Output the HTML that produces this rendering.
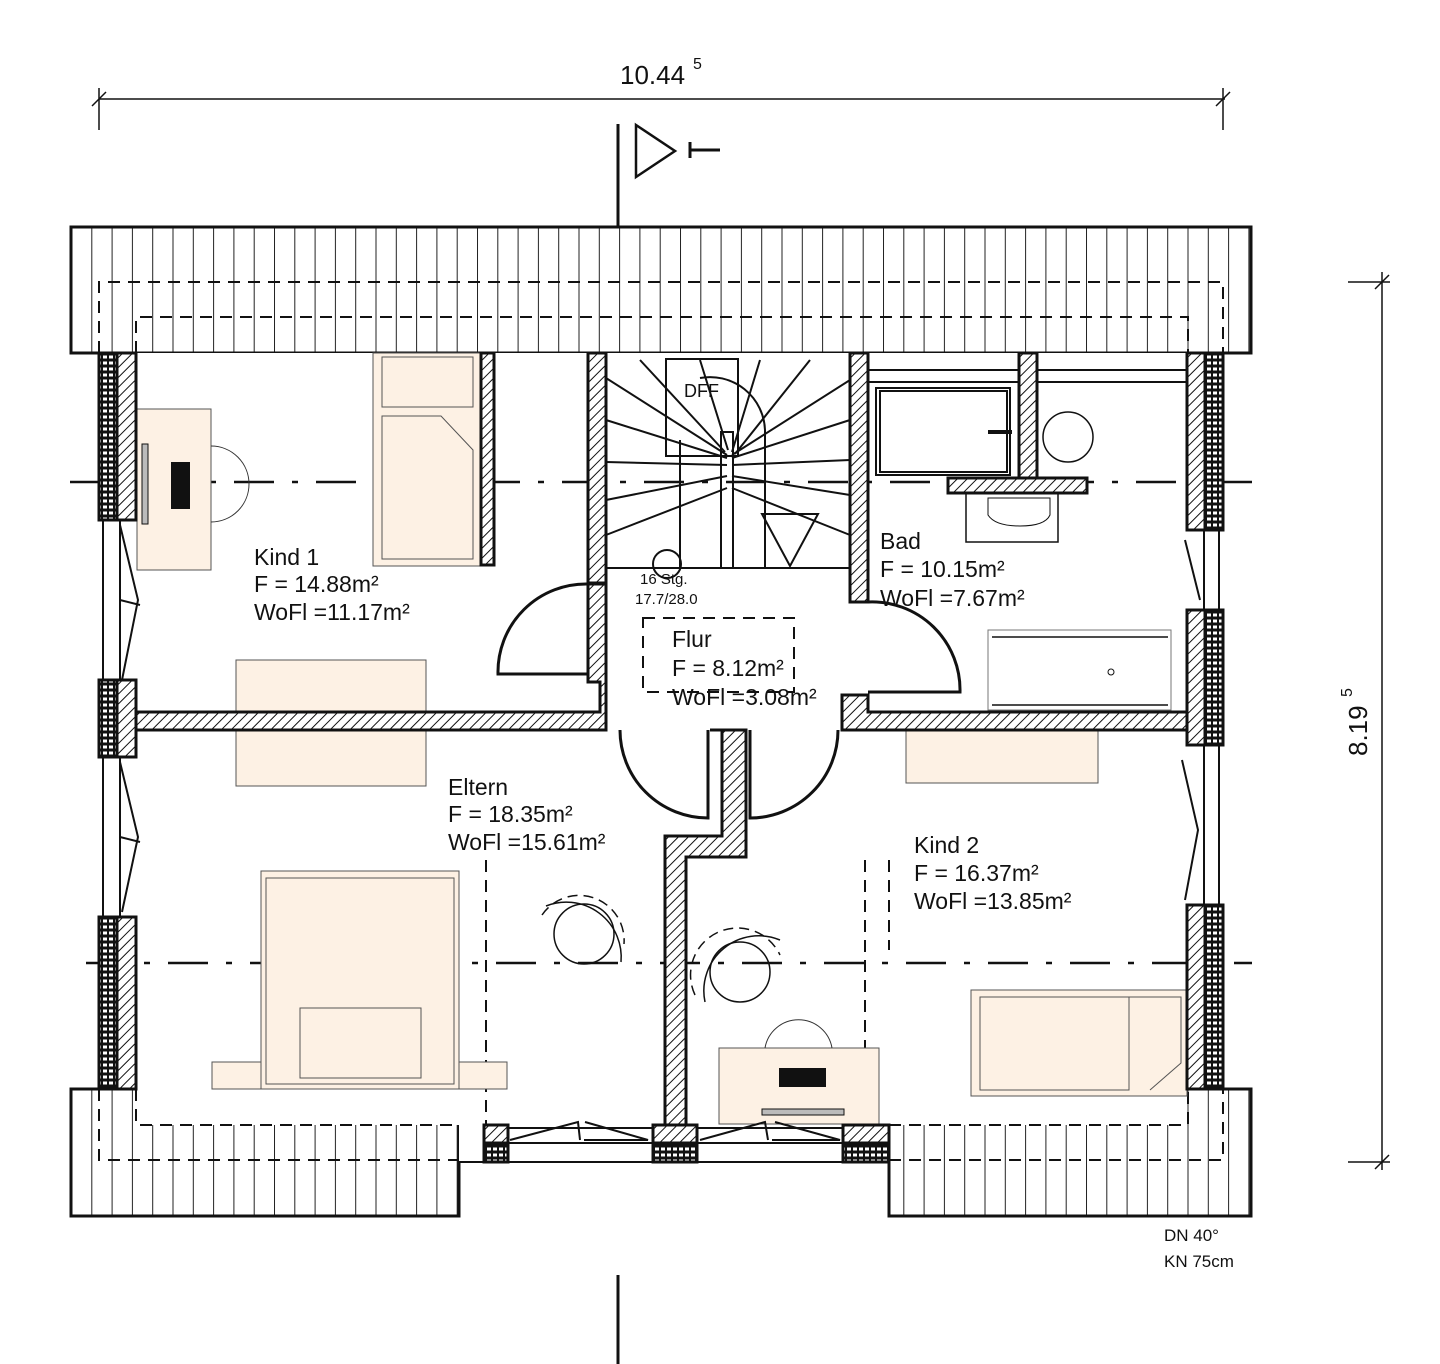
<!DOCTYPE html>
<html><head><meta charset="utf-8"><style>
html,body{margin:0;padding:0;background:#fff}
svg{display:block}
text{font-family:"Liberation Sans",sans-serif;fill:#111}
</style></head><body>
<svg width="1440" height="1364" viewBox="0 0 1440 1364" xmlns="http://www.w3.org/2000/svg">
<defs>
<pattern id="h" width="7" height="7" patternUnits="userSpaceOnUse" patternTransform="rotate(45)">
<rect width="7" height="7" fill="#fff"/><line x1="0" y1="0" x2="0" y2="7" stroke="#111" stroke-width="2"/></pattern>
<pattern id="b" width="6" height="6" patternUnits="userSpaceOnUse">
<rect width="6" height="6" fill="#111"/><rect x="1" y="1.5" width="4" height="3" fill="#fff"/></pattern>
<pattern id="r" width="20.3" height="200" patternUnits="userSpaceOnUse" x="71">
<rect width="20.3" height="200" fill="#fff"/><line x1="0.5" y1="0" x2="0.5" y2="200" stroke="#222" stroke-width="1"/></pattern>
</defs>

<!-- dimensions -->
<line x1="99" y1="99" x2="1225" y2="99" stroke="#111" stroke-width="1.5"/>
<line x1="99" y1="88" x2="99" y2="130" stroke="#111" stroke-width="1.5"/>
<line x1="1223" y1="88" x2="1223" y2="130" stroke="#111" stroke-width="1.5"/>
<line x1="92" y1="106" x2="106" y2="92" stroke="#111" stroke-width="1.5"/>
<line x1="1216" y1="106" x2="1230" y2="92" stroke="#111" stroke-width="1.5"/>
<text x="620" y="84" font-size="26">10.44</text><text x="693" y="69" font-size="16">5</text>

<line x1="1382" y1="272" x2="1382" y2="1170" stroke="#111" stroke-width="1.5"/>
<line x1="1348" y1="282" x2="1390" y2="282" stroke="#111" stroke-width="1.5"/>
<line x1="1348" y1="1162" x2="1390" y2="1162" stroke="#111" stroke-width="1.5"/>
<line x1="1375" y1="289" x2="1389" y2="275" stroke="#111" stroke-width="1.5"/>
<line x1="1375" y1="1169" x2="1389" y2="1155" stroke="#111" stroke-width="1.5"/>
<text transform="translate(1367,756) rotate(-90)" font-size="26">8.19</text>
<text transform="translate(1352,697) rotate(-90)" font-size="16">5</text>

<!-- section marker -->
<line x1="618" y1="124" x2="618" y2="226" stroke="#111" stroke-width="3"/>
<line x1="618" y1="1275" x2="618" y2="1364" stroke="#111" stroke-width="3"/>
<polygon points="636,125 636,177 675,151" fill="none" stroke="#111" stroke-width="2.5"/>
<path d="M689 150 H720 M690 142 V158" stroke="#111" stroke-width="3" fill="none"/>

<!-- roofs -->
<rect x="71" y="227" width="1180" height="126" fill="url(#r)" stroke="#111" stroke-width="3"/>
<rect x="71" y="1089" width="388" height="127" fill="url(#r)" stroke="#111" stroke-width="3"/>
<rect x="889" y="1089" width="362" height="127" fill="url(#r)" stroke="#111" stroke-width="3"/>

<rect x="136" y="353" width="1051" height="772" fill="#fff"/>
<rect x="459" y="1089" width="430" height="73" fill="#fff"/>

<!-- dashed lines -->
<g stroke="#111" stroke-width="2" fill="none" stroke-dasharray="12,8">
<path d="M99 353 V282 H1223 V353"/>
<path d="M136 353 V317 H1188 V353"/>
<path d="M99 1089 V1160 H459 M889 1160 H1223 V1089"/>
<path d="M136 1089 V1125 H459 M889 1125 H1188 V1089"/>
<path d="M486 860 V1125 M865 860 V1125 M889 860 V950"/>
<path d="M643 618 H794 V692 H643 Z"/>
</g>
<g stroke="#111" stroke-width="2.5" fill="none" stroke-dasharray="40,18,6,18">
<path d="M70 482 H1252"/>
<path d="M86 963 H1252"/>
</g>

<!-- furniture -->
<g fill="#fdf1e4" stroke="#555" stroke-width="1">
<rect x="137" y="409" width="74" height="161"/>
<rect x="373" y="353" width="107" height="213"/>
<rect x="382" y="357" width="91" height="50" fill="none"/>
<path d="M382 416 H441 L473 450 V559 H382 Z" fill="none"/>
<rect x="236" y="660" width="190" height="126"/>
<rect x="906" y="730" width="192" height="53"/>
<rect x="212" y="1062" width="295" height="27"/>
<rect x="261" y="871" width="198" height="218"/>
<rect x="266" y="878" width="188" height="206" fill="none"/>
<rect x="300" y="1008" width="121" height="70" fill="none"/>
<rect x="719" y="1048" width="160" height="76"/>
<rect x="971" y="990" width="216" height="106"/>
<path d="M980 997 H1129 V1090 H980 Z M1129 997 H1181 V1063 L1150 1090" fill="none"/>
</g>
<path d="M211 446 A36 36 0 0 1 211 522" fill="none" stroke="#333"/>
<rect x="142" y="444" width="6" height="80" fill="#bbb" stroke="#111"/>
<rect x="171" y="462" width="19" height="47" fill="#111"/>
<path d="M765 1048 A34 34 0 0 1 832 1048" fill="none" stroke="#333"/>
<rect x="779" y="1068" width="47" height="19" fill="#111"/>
<rect x="762" y="1109" width="82" height="6" fill="#bbb" stroke="#111"/>

<g fill="none" stroke="#111" stroke-width="1.5">
<circle cx="584" cy="934" r="30"/>
<path d="M542 915 A45 45 0 0 1 624 944" stroke-dasharray="10,6"/>
<path d="M546 906 A55 55 0 0 1 621 962"/>
<circle cx="740" cy="972" r="30"/>
<path d="M695 995 A45 45 0 0 1 780 955" stroke-dasharray="10,6"/>
<path d="M705 1002 A55 55 0 0 1 780 940"/>
</g>

<!-- stairs -->
<g stroke="#111" stroke-width="2" fill="none">
<rect x="666" y="359" width="72" height="97"/>
<path d="M700 378 A55 55 0 0 1 765 430 V568"/>
<path d="M680 440 V568"/>
<path d="M606 568 H850"/>
<path d="M606 378 L727 455 M606 420 L727 458 M606 462 L727 465 M606 500 L727 476 M606 535 L727 488
M850 380 L732 455 M850 420 L732 458 M850 460 L732 465 M850 495 L732 476 M850 535 L732 488
M640 360 L725 452 M700 360 L728 450 M760 360 L732 452 M810 360 L735 454"/>
<rect x="721" y="432" width="12" height="136"/>
<polygon points="762,514 818,514 790,566"/>
<circle cx="667" cy="564" r="14"/>
</g>
<text x="684" y="397" font-size="18">DFF</text>
<text x="640" y="584" font-size="15">16 Stg.</text>
<text x="635" y="604" font-size="15">17.7/28.0</text>

<!-- bathroom -->
<g stroke="#111" fill="none" stroke-width="2">
<path d="M868 370 H1187 M868 382 H1187"/>
<rect x="876" y="388" width="134" height="87"/>
<rect x="880" y="391" width="127" height="81"/>
<rect x="966" y="493" width="92" height="49" stroke-width="1.5"/>
<path d="M988 498 H1050 V515 Q1045 526 1020 526 Q995 526 988 515 Z" stroke-width="1"/>
<circle cx="1068" cy="437" r="25" stroke-width="1.5"/>
<path d="M988 432 H1012" stroke-width="4"/>
<rect x="988" y="630" width="183" height="80" stroke="#777" stroke-width="1"/>
<path d="M992 637 H1168 M992 705 H1168" stroke-width="1.5"/>
<circle cx="1111" cy="672" r="3" stroke-width="1"/>
</g>

<!-- doors -->
<g stroke="#111" stroke-width="3" fill="none">
<path d="M588 584 A88 88 0 0 0 498 674 H588"/>
<path d="M868 602 A88 88 0 0 1 960 692 H868"/>
<path d="M620 730 A88 88 0 0 0 708 818 V730"/>
<path d="M838 730 A88 88 0 0 1 750 818 V730"/>
</g>

<!-- walls -->
<g fill="url(#h)" stroke="#111" stroke-width="3">
<rect x="117" y="353" width="19" height="167"/>
<rect x="117" y="680" width="19" height="77"/>
<rect x="117" y="917" width="19" height="172"/>
<rect x="1187" y="353" width="18" height="177"/>
<rect x="1187" y="610" width="18" height="135"/>
<rect x="1187" y="905" width="18" height="184"/>
<path d="M136 712 H600 V682 H588 V584 H606 V730 H136 Z"/>
<rect x="588" y="353" width="18" height="230"/>
<rect x="850" y="353" width="18" height="249"/>
<path d="M842 712 V695 H868 V712 H1187 V730 H842 Z"/>
<rect x="481" y="353" width="13" height="212"/>
<rect x="1019" y="353" width="18" height="127"/>
<rect x="948" y="478" width="139" height="15"/>
<path d="M710 730 H746 V857 H686 V1125 H665 V836 H722 V730 Z" />
<rect x="653" y="1125" width="44" height="37"/>
<rect x="484" y="1125" width="24" height="37"/>
<rect x="843" y="1125" width="46" height="37"/>
</g>
<g fill="url(#b)" stroke="#111" stroke-width="3">
<rect x="99" y="353" width="18" height="167"/>
<rect x="99" y="680" width="18" height="77"/>
<rect x="99" y="917" width="18" height="172"/>
<rect x="1205" y="353" width="18" height="177"/>
<rect x="1205" y="610" width="18" height="135"/>
<rect x="1205" y="905" width="18" height="184"/>
<rect x="653" y="1143" width="44" height="19"/>
<rect x="484" y="1143" width="24" height="19"/>
<rect x="843" y="1143" width="46" height="19"/>
</g>

<!-- windows -->
<g stroke="#111" stroke-width="2" fill="none">
<path d="M103 520 V680 M120 520 V680 M103 757 V917 M120 757 V917"/>
<path d="M120 525 L138 600 L122 680 M120 600 L140 605"/>
<path d="M120 762 L138 837 L122 912 M120 837 L140 842"/>
<path d="M1204 530 V610 M1219 530 V610 M1204 745 V905 M1219 745 V905"/>
<path d="M1185 540 L1200 600 M1182 760 L1198 830 L1185 900"/>
<path d="M508 1143 H653 M697 1143 H843 M459 1162 H889 M508 1128 H653 M697 1128 H843"/>
<path d="M510 1140 L578 1122 L580 1140 M584 1140 L648 1140 L585 1122"/>
<path d="M700 1140 L765 1122 L768 1140 M772 1140 L840 1140 L775 1122"/>
</g>

<g font-size="23">
<text x="254" y="565">Kind 1</text>
<text x="254" y="592">F = 14.88m²</text>
<text x="254" y="620">WoFl =11.17m²</text>
<text x="880" y="549">Bad</text>
<text x="880" y="577">F = 10.15m²</text>
<text x="880" y="606">WoFl =7.67m²</text>
<text x="672" y="647">Flur</text>
<text x="672" y="676">F = 8.12m²</text>
<text x="672" y="705">WoFl =3.08m²</text>
<text x="448" y="795">Eltern</text>
<text x="448" y="822">F = 18.35m²</text>
<text x="448" y="850">WoFl =15.61m²</text>
<text x="914" y="853">Kind 2</text>
<text x="914" y="881">F = 16.37m²</text>
<text x="914" y="909">WoFl =13.85m²</text>
</g>
<text x="1164" y="1241" font-size="17">DN 40°</text>
<text x="1164" y="1267" font-size="17">KN 75cm</text>
</svg>
</body></html>
